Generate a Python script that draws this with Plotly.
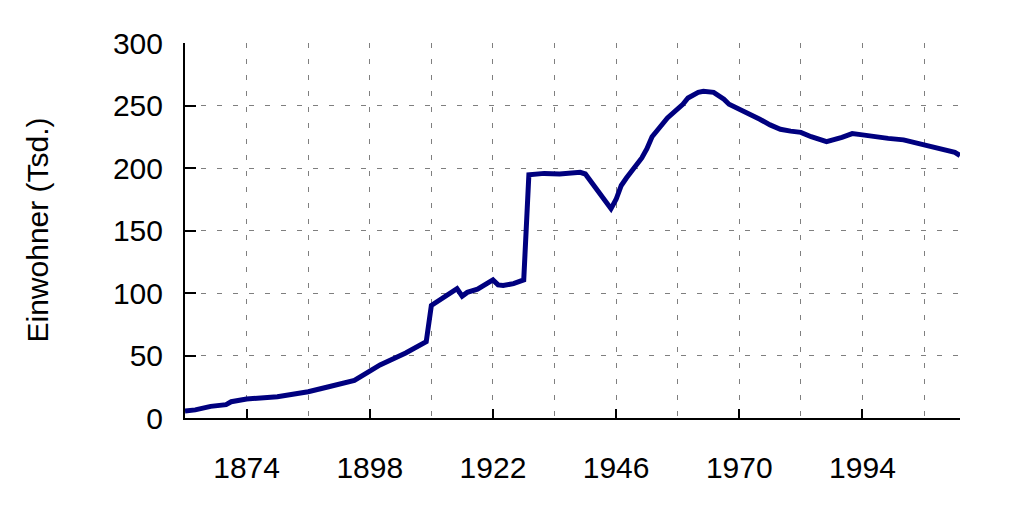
import plotly.graph_objects as go

years = [1862, 1864, 1867, 1870, 1871, 1874, 1880, 1886, 1890, 1895, 1898, 1900,
         1905, 1909, 1910, 1915, 1916, 1917, 1919, 1921, 1922, 1923, 1924, 1926,
         1928, 1929, 1932, 1935, 1938, 1939, 1940, 1945, 1946, 1947, 1948, 1950,
         1951, 1952, 1953, 1954, 1956, 1959, 1960, 1962, 1963, 1965, 1967, 1968,
         1970, 1972, 1974, 1976, 1978, 1980, 1982, 1984, 1986, 1987, 1990, 1992,
         1994, 1997, 1999, 2002, 2004, 2007, 2009, 2011, 2012, 2013]
einwohner = [5.6, 6.5, 9.3, 10.7, 13.0, 15.2, 17.0, 21.0, 25.0, 30.0, 37.5, 42.5,
             52.0, 61.0, 90.0, 103.5, 97.5, 100.5, 103.0, 107.5, 110.5, 106.5, 106.0, 107.5,
             110.5, 194.5, 195.7, 195.2, 195.7, 196.5, 195.2, 167.5, 175.0, 186.0, 192.0, 202.5,
             208.0, 215.5, 225.0, 230.0, 240.0, 251.0, 256.0, 260.5, 261.4, 260.5, 255.0, 251.0,
             247.0, 244.0, 239.0, 234.5, 231.0, 229.5, 228.5, 225.0, 222.5, 221.0, 224.5, 227.5,
             226.5, 224.5, 223.7, 222.5, 220.5, 218.0, 215.5, 213.5, 212.5, 210.0]

x_ticks = [1874, 1898, 1922, 1946, 1970, 1994]
y_ticks = [0, 50, 100, 150, 200, 250, 300]
y_title = "Einwohner (Tsd.)"

FONT = "Liberation Sans, Arial, sans-serif"
GRID = "#7f7f7f"
DASH = "5px,11px"
FS = 30

fig = go.Figure()
fig.add_trace(go.Scatter(x=years, y=einwohner, mode="lines",
                         line=dict(color="#00007f", width=5),
                         hoverinfo="skip", showlegend=False))

fig.update_layout(
    width=1024, height=512,
    margin=dict(l=177, r=72, t=35, b=102),
    paper_bgcolor="white", plot_bgcolor="white",
    font=dict(family=FONT, size=FS, color="black"),
    xaxis=dict(range=[1862, 2013], tickmode="array", tickvals=x_ticks,
               ticktext=[str(v) for v in x_ticks],
               ticks="inside", ticklen=9, tickwidth=2, tickcolor="black",
               showline=True, linewidth=2, linecolor="black",
               showgrid=True, gridcolor=GRID, gridwidth=1, griddash=DASH,
               minor=dict(tick0=1862, dtick=12, showgrid=True, gridcolor=GRID,
                          gridwidth=1, griddash=DASH, ticks=""),
               zeroline=False, ticklabelstandoff=22,
               tickfont=dict(family=FONT, size=FS, color="black")),
    yaxis=dict(range=[0, 300], tickmode="array", tickvals=y_ticks,
               ticks="inside", ticklen=11, tickwidth=2, tickcolor="black",
               showline=True, linewidth=2, linecolor="black",
               showgrid=True, gridcolor=GRID, gridwidth=1, griddash=DASH,
               zeroline=False, ticklabelstandoff=14,
               tickfont=dict(family=FONT, size=FS, color="black")),
    annotations=[dict(text=y_title, xref="paper", yref="paper",
                      x=(36 - 184) / 775, y=0.5, xanchor="center", yanchor="middle",
                      textangle=-90, showarrow=False,
                      font=dict(family=FONT, size=FS, color="black"))],
)

fig.write_html("out.html")
